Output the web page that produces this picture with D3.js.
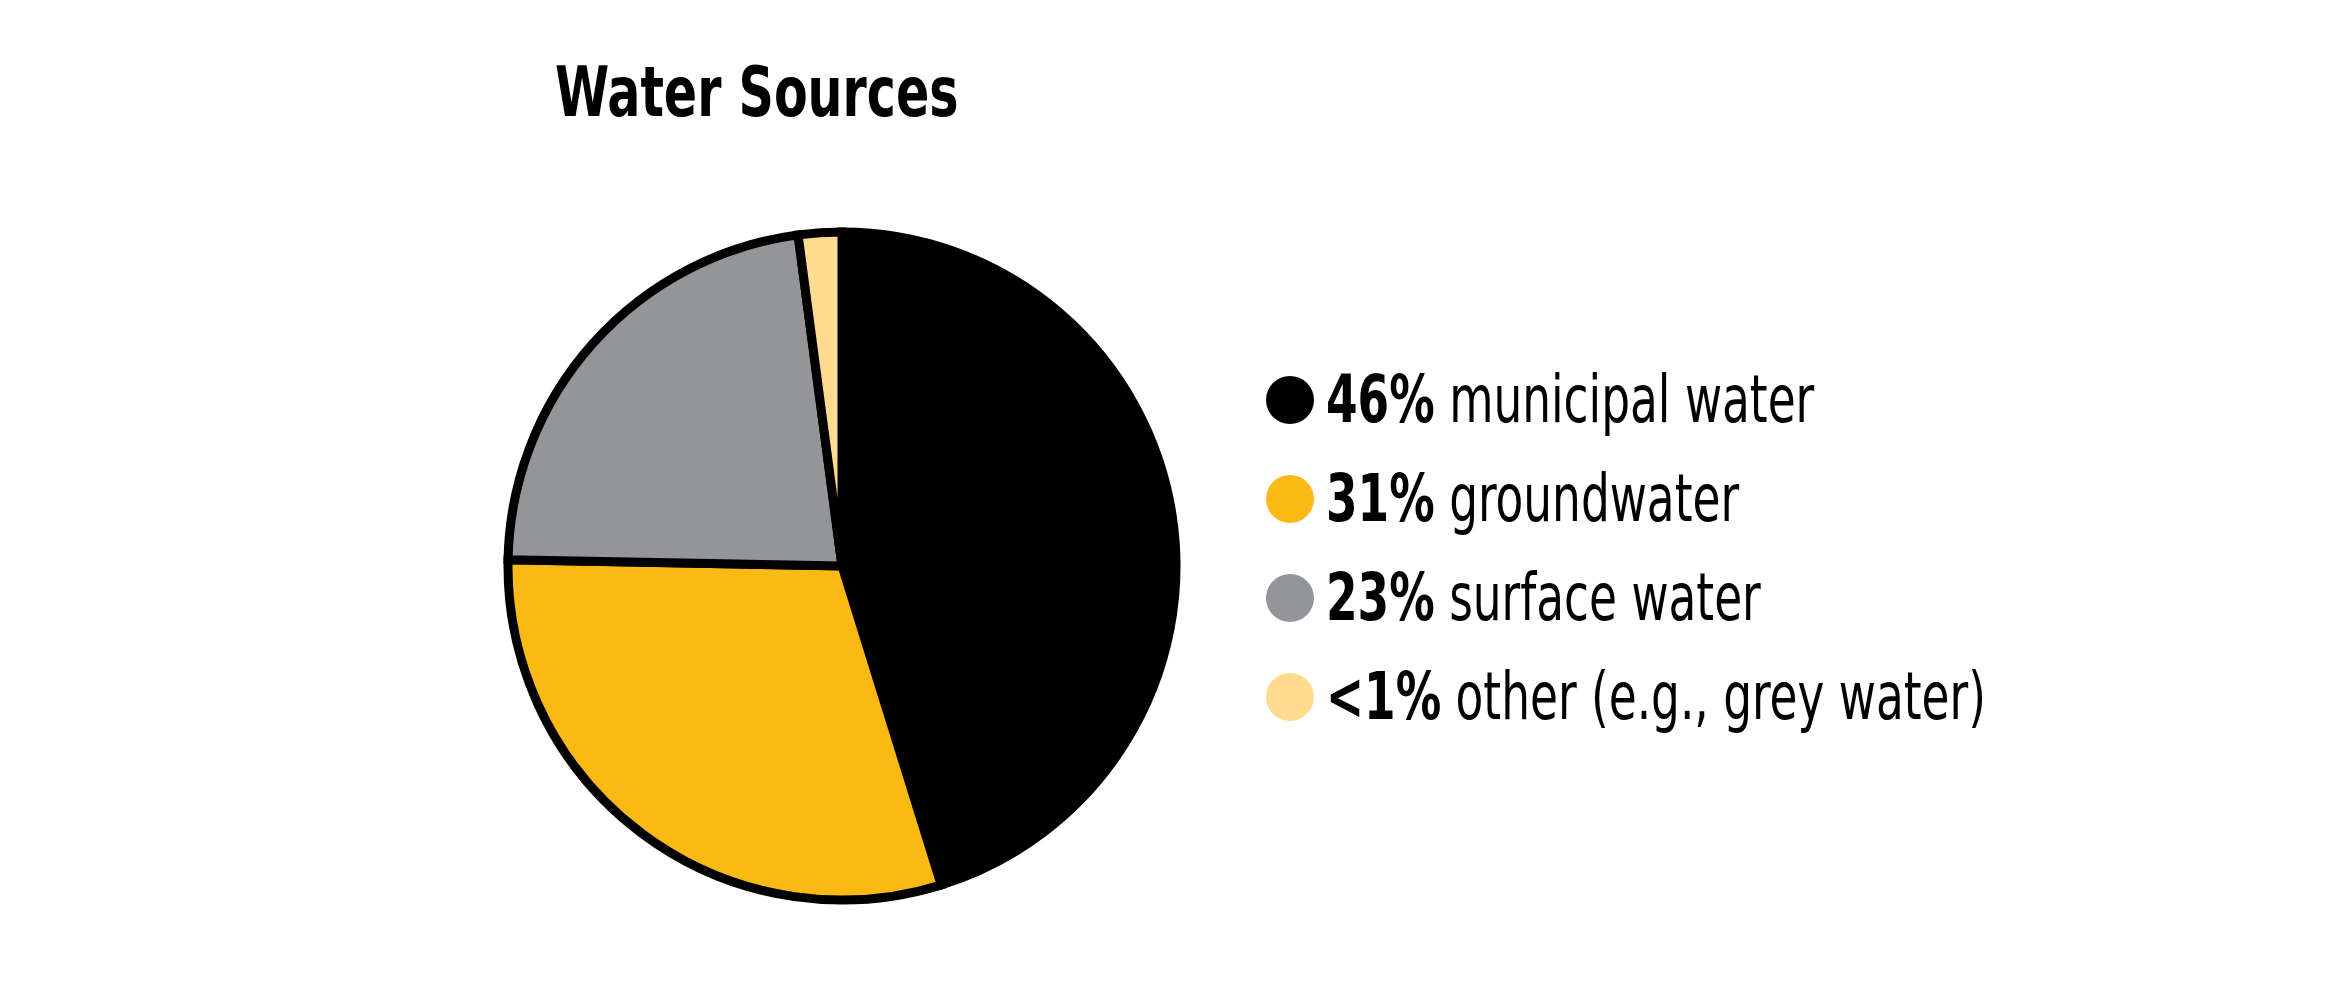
<!DOCTYPE html>
<html>
<head>
<meta charset="utf-8">
<script src="https://cdn.jsdelivr.net/npm/d3@7/dist/d3.min.js"></script>
<style>
  html, body { margin: 0; padding: 0; background: #fff; }
  svg { display: block; }
  .cond { font-family: "Liberation Sans Narrow", "Arial Narrow", "DejaVu Sans Condensed", "Liberation Sans", sans-serif; }
</style>
</head>
<body>
<svg id="chart" width="2333" height="1004"></svg>
<script>
// ---- data ----
const title = "Water Sources";
const categories = ["municipal water", "groundwater", "surface water", "other (e.g., grey water)"];
const percentLabels = ["46%", "31%", "23%", "<1%"];
// slice sizes as drawn in the picture (share of the circle, %)
const sliceValues = [45.2, 30.1, 22.6, 2.1];
const colors = ["#000000", "#FBB913", "#939598", "#FEDB8F"];

// ---- layout ----
const cx = 842, cy = 566, R = 334;
const svg = d3.select("#chart");

// title (horizontally condensed to mimic a condensed typeface)
svg.append("g")
  .attr("transform", "translate(555,116) scale(0.78,1)")
  .append("text")
  .attr("class", "cond")
  .attr("x", 0).attr("y", 0)
  .attr("font-size", 70).attr("font-weight", "bold")
  .attr("fill", "#000")
  .text(title);

// pie
const data = categories.map((c, i) => ({ name: c, value: sliceValues[i], color: colors[i] }));
const pie = d3.pie().sort(null).value(d => d.value).startAngle(0).endAngle(2 * Math.PI);
const arc = d3.arc().innerRadius(0).outerRadius(R);

const g = svg.append("g").attr("transform", `translate(${cx},${cy})`);
g.selectAll("path.slice")
  .data(pie(data))
  .join("path")
  .attr("class", "slice")
  .attr("d", arc)
  .attr("fill", d => d.data.color)
  .attr("stroke", "#000")
  .attr("stroke-width", 9)
  .attr("stroke-linejoin", "miter");

// legend
const legY = d3.scalePoint().domain(categories).range([400, 697]);
const leg = svg.append("g");
const rows = leg.selectAll("g.row").data(data).join("g").attr("class", "row")
  .attr("transform", d => `translate(1290,${legY(d.name)})`);
rows.append("circle").attr("r", 24).attr("fill", d => d.color);
const t = rows.append("g").attr("transform", "translate(36,22) scale(0.765,1)")
  .append("text").attr("class", "cond")
  .attr("x", 0).attr("y", 0)
  .attr("font-size", 66).attr("fill", "#000");
t.append("tspan").attr("font-weight", "bold").text((d, i) => percentLabels[i]);
t.append("tspan").text(d => " " + d.name);
</script>
</body>
</html>
